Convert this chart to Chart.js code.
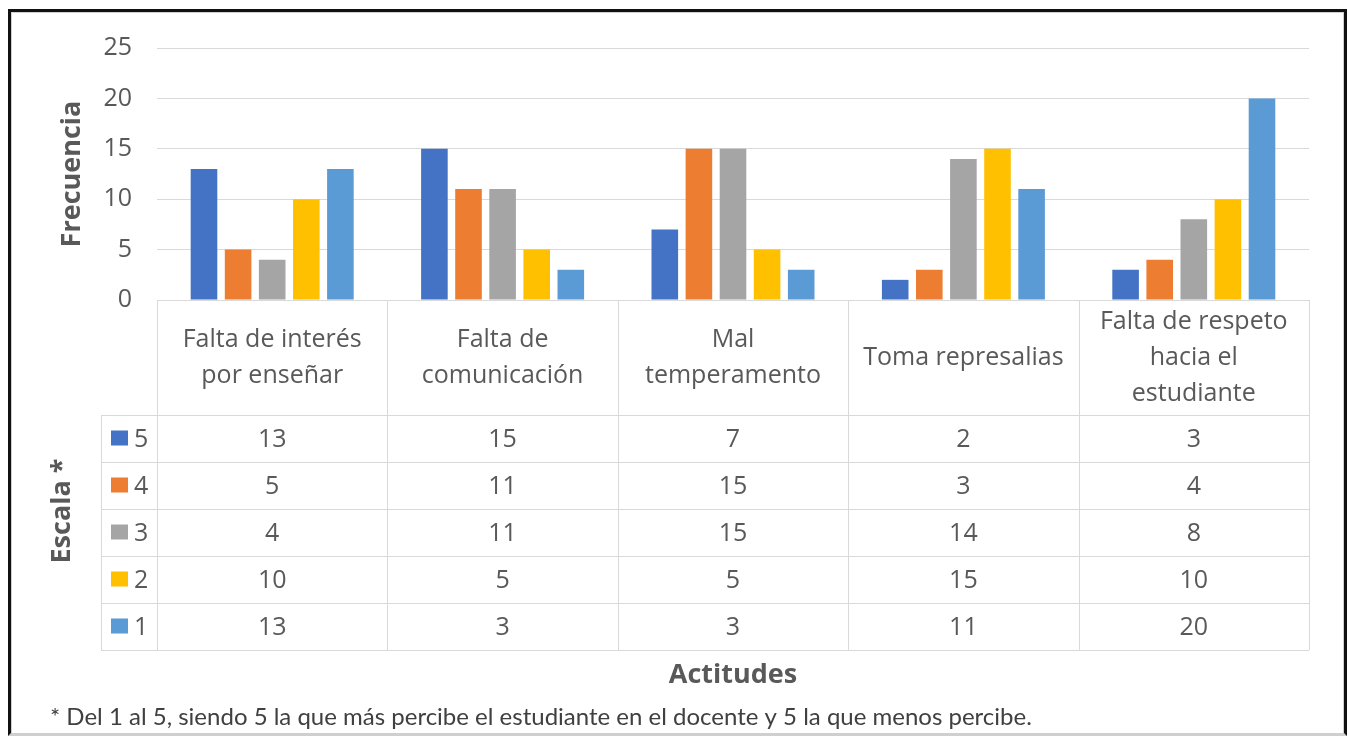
<!DOCTYPE html>
<html>
<head>
<meta charset="utf-8">
<script src="https://cdn.jsdelivr.net/npm/chart.js@4.4.0/dist/chart.umd.min.js"></script>
<style>
  html, body { margin: 0; padding: 0; background: #fff; }
  #wrap { position: relative; width: 1348px; height: 736px; overflow: hidden; }
  #frame {
    position: absolute; left: 8px; top: 9px; width: 1333px; height: 721px;
    border: 3px solid #111; border-bottom: 3px solid #cfcfcf; pointer-events: none;
    box-shadow: inset 1px 1px 0 #d0d0d0, inset -1px 0 0 #d0d0d0;
  }
</style>
</head>
<body>
<div id="wrap">
  <canvas id="actitudesChart" width="1348" height="736"></canvas>
  <div id="frame"></div>
</div>
<script>
// Data
const categories = [
  ['Falta de interés', 'por enseñar'],
  ['Falta de', 'comunicación'],
  ['Mal', 'temperamento'],
  ['Toma represalias'],
  ['Falta de respeto', 'hacia el', 'estudiante']
];
const scaleLabels = ['5', '4', '3', '2', '1'];
const escala5 = [13, 15, 7, 2, 3];
const escala4 = [5, 11, 15, 3, 4];
const escala3 = [4, 11, 15, 14, 8];
const escala2 = [10, 5, 5, 15, 10];
const escala1 = [13, 3, 3, 11, 20];
const yTicks = [0, 5, 10, 15, 20, 25];

const seriesValues = [escala5, escala4, escala3, escala2, escala1];
const colors = ['#4472C4', '#ED7D31', '#A5A5A5', '#FFC000', '#5B9BD5'];

const textColor = '#595959';
const lineColor = '#d9d9d9';
const fontFamily = '"Open Sans", "Noto Sans", sans-serif';

// Draws the data table under the plot, aligned with the x scale
const dataTablePlugin = {
  id: 'dataTable',
  afterDraw(chart) {
    const ctx = chart.ctx;
    const x = chart.scales.x;
    const area = chart.chartArea;
    const n = categories.length;
    const colW = (x.right - x.left) / n;
    const headerBottom = area.bottom + 115;
    const rowH = 47;
    const legendLeft = 101;
    const tableBottom = headerBottom + rowH * scaleLabels.length;

    ctx.save();
    ctx.strokeStyle = lineColor;
    ctx.lineWidth = 1;
    ctx.beginPath();
    // header top line
    ctx.moveTo(x.left, area.bottom + 0.5);
    ctx.lineTo(x.right, area.bottom + 0.5);
    // row lines
    for (let r = 0; r <= scaleLabels.length; r++) {
      const y = Math.round(headerBottom + r * rowH) + 0.5;
      ctx.moveTo(legendLeft, y);
      ctx.lineTo(x.right, y);
    }
    // column lines
    for (let c = 0; c <= n; c++) {
      const xx = Math.round(x.left + c * colW) + 0.5;
      ctx.moveTo(xx, area.bottom);
      ctx.lineTo(xx, tableBottom);
    }
    ctx.moveTo(legendLeft + 0.5, headerBottom);
    ctx.lineTo(legendLeft + 0.5, tableBottom);
    ctx.stroke();

    ctx.fillStyle = textColor;
    ctx.font = '25px ' + fontFamily;
    ctx.textAlign = 'center';
    ctx.textBaseline = 'middle';

    // category headers
    const headerMid = (area.bottom + headerBottom) / 2;
    const lh = 36;
    categories.forEach((lines, i) => {
      const cx = x.getPixelForValue(i);
      const y0 = headerMid - (lines.length - 1) * lh / 2;
      lines.forEach((t, k) => ctx.fillText(t, cx, y0 + k * lh));
    });

    // rows: legend key + values
    scaleLabels.forEach((lab, r) => {
      const cy = headerBottom + r * rowH + rowH / 2;
      ctx.fillStyle = colors[r];
      ctx.fillRect(111, cy - 8, 17, 15);
      ctx.fillStyle = textColor;
      ctx.textAlign = 'left';
      ctx.fillText(lab, 134, cy + 1);
      ctx.textAlign = 'center';
      seriesValues[r].forEach((v, i) => {
        ctx.fillText(String(v), x.getPixelForValue(i), cy + 1);
      });
    });

    // "Escala *" title
    ctx.save();
    ctx.translate(62, 511);
    ctx.rotate(-Math.PI / 2);
    ctx.font = 'bold 27px ' + fontFamily;
    ctx.fillText('Escala *', 0, 0);
    ctx.restore();

    // x title
    ctx.font = 'bold 27px ' + fontFamily;
    ctx.fillText('Actitudes', (x.left + x.right) / 2, 675);

    // footnote
    ctx.fillStyle = '#404040';
    ctx.font = '24px Lato, "Open Sans", sans-serif';
    ctx.textAlign = 'left';
    ctx.fillText('* Del 1 al 5, siendo 5 la que más percibe el estudiante en el docente y 5 la que menos percibe.', 50, 717);
    ctx.restore();
  }
};

const ctx = document.getElementById('actitudesChart').getContext('2d');
const actitudesChart = new Chart(ctx, {
  type: 'bar',
  data: {
    labels: categories,
    datasets: scaleLabels.map((lab, i) => ({
      label: lab,
      data: seriesValues[i],
      backgroundColor: colors[i],
      borderWidth: 0,
      categoryPercentage: 0.74,
      barPercentage: 0.78
    }))
  },
  options: {
    responsive: false,
    animation: false,
    layout: { padding: { top: 48, right: 39, bottom: 436, left: 0 } },
    plugins: {
      legend: { display: false },
      tooltip: { enabled: false }
    },
    scales: {
      x: {
        display: false
      },
      y: {
        min: 0,
        max: 25,
        afterBuildTicks: (scale) => { scale.ticks = yTicks.map(v => ({ value: v })); },
        afterFit: (scale) => { scale.width = 157; },
        border: { display: false },
        grid: { color: lineColor, drawTicks: false },
        ticks: {
          padding: 25,
          color: textColor,
          font: { family: fontFamily, size: 25 }
        },
        title: {
          display: true,
          text: 'Frecuencia',
          color: textColor,
          font: { family: fontFamily, size: 27, weight: 'bold' },
          padding: { top: 56, bottom: 0 }
        }
      }
    }
  },
  plugins: [dataTablePlugin]
});
</script>
</body>
</html>
